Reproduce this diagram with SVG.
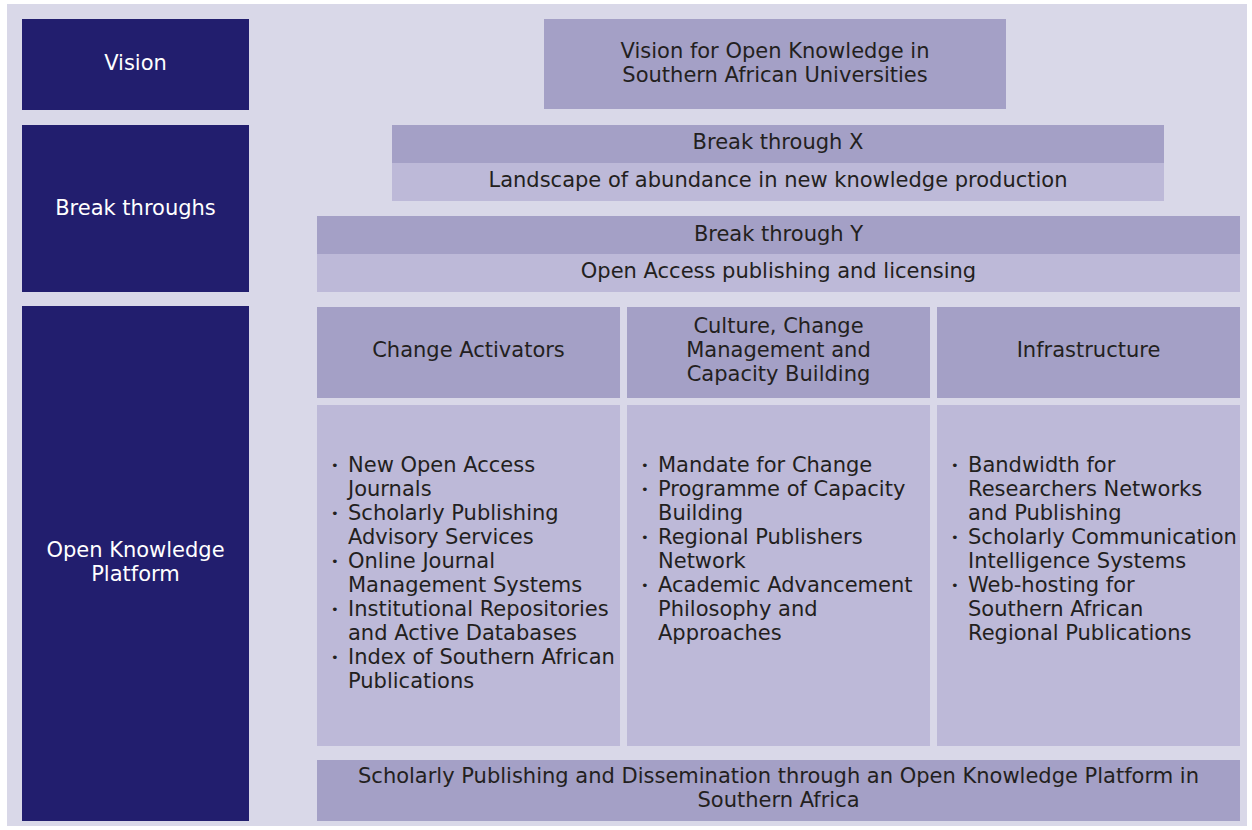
<svg xmlns="http://www.w3.org/2000/svg" width="1252" height="830" viewBox="0 0 1252 830">
<style>
.nav{fill:#221e6e}
.hd{fill:#a4a0c6}
.lt{fill:#bdb9d8}
text{font-family:"DejaVu Sans","Liberation Sans",sans-serif;font-size:21px;fill:#231f20}
.w{fill:#ffffff}
.c{text-anchor:middle}
.b{font-size:13px}
</style>
<rect x="0" y="0" width="1252" height="830" fill="#ffffff"/>
<rect x="7" y="4" width="1240" height="822" fill="#d9d8e8"/>
<g id="vision-label"><rect class="nav" x="22" y="19" width="227" height="91"/><text class="w c" x="135.5" y="70">Vision</text></g>
<g id="breakthroughs-label"><rect class="nav" x="22" y="125" width="227" height="167"/><text class="w c" x="135.5" y="215">Break throughs</text></g>
<g id="platform-label"><rect class="nav" x="22" y="306" width="227" height="515"/><text class="w c" x="135.5" y="557">Open Knowledge</text><text class="w c" x="135.5" y="581">Platform</text></g>
<g id="vision"><rect class="hd" x="544" y="19" width="462" height="90"/><text class="c" x="775" y="58">Vision for Open Knowledge in</text><text class="c" x="775" y="82">Southern African Universities</text></g>
<g id="breakthrough-x"><rect class="hd" x="392" y="125" width="772" height="38"/><rect class="lt" x="392" y="163" width="772" height="38"/><text class="c" x="778" y="149">Break through X</text><text class="c" x="778" y="187">Landscape of abundance in new knowledge production</text></g>
<g id="breakthrough-y"><rect class="hd" x="317" y="216" width="923" height="38"/><rect class="lt" x="317" y="254" width="923" height="38"/><text class="c" x="778.5" y="241">Break through Y</text><text class="c" x="778.5" y="278">Open Access publishing and licensing</text></g>
<g id="change-activators"><rect class="hd" x="317" y="307" width="303" height="91"/><text class="c" x="468.5" y="357">Change Activators</text>
<rect class="lt" x="317" y="405" width="303" height="341"/>
<text class="b" x="331" y="470">•</text><text x="348" y="472">New Open Access</text><text x="348" y="496">Journals</text>
<text class="b" x="331" y="518">•</text><text x="348" y="520">Scholarly Publishing</text><text x="348" y="544">Advisory Services</text>
<text class="b" x="331" y="566">•</text><text x="348" y="568">Online Journal</text><text x="348" y="592">Management Systems</text>
<text class="b" x="331" y="614">•</text><text x="348" y="616">Institutional Repositories</text><text x="348" y="640">and Active Databases</text>
<text class="b" x="331" y="662">•</text><text x="348" y="664">Index of Southern African</text><text x="348" y="688">Publications</text></g>
<g id="culture"><rect class="hd" x="627" y="307" width="303" height="91"/><text class="c" x="778.5" y="333">Culture, Change</text><text class="c" x="778.5" y="357">Management and</text><text class="c" x="778.5" y="381">Capacity Building</text>
<rect class="lt" x="627" y="405" width="303" height="341"/>
<text class="b" x="641" y="470">•</text><text x="658" y="472">Mandate for Change</text>
<text class="b" x="641" y="494">•</text><text x="658" y="496">Programme of Capacity</text><text x="658" y="520">Building</text>
<text class="b" x="641" y="542">•</text><text x="658" y="544">Regional Publishers</text><text x="658" y="568">Network</text>
<text class="b" x="641" y="590">•</text><text x="658" y="592">Academic Advancement</text><text x="658" y="616">Philosophy and</text><text x="658" y="640">Approaches</text></g>
<g id="infrastructure"><rect class="hd" x="937" y="307" width="303" height="91"/><text class="c" x="1088.5" y="357">Infrastructure</text>
<rect class="lt" x="937" y="405" width="303" height="341"/>
<text class="b" x="951" y="470">•</text><text x="968" y="472">Bandwidth for</text><text x="968" y="496">Researchers Networks</text><text x="968" y="520">and Publishing</text>
<text class="b" x="951" y="542">•</text><text x="968" y="544">Scholarly Communication</text><text x="968" y="568">Intelligence Systems</text>
<text class="b" x="951" y="590">•</text><text x="968" y="592">Web-hosting for</text><text x="968" y="616">Southern African</text><text x="968" y="640">Regional Publications</text></g>
<g id="platform"><rect class="hd" x="317" y="760" width="923" height="61"/><text class="c" x="778.5" y="783">Scholarly Publishing and Dissemination through an Open Knowledge Platform in</text><text class="c" x="778.5" y="807">Southern Africa</text></g>
<g id="connectors"></g>
</svg>
